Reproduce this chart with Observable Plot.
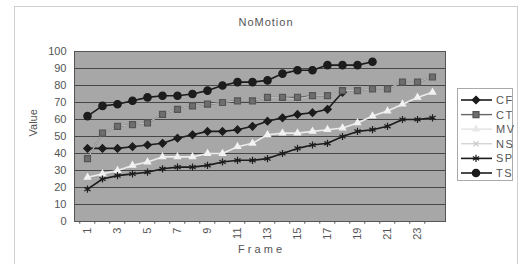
<!DOCTYPE html>
<html><head><meta charset="utf-8">
<script src="https://cdn.jsdelivr.net/npm/d3@7"></script>
<script src="https://cdn.jsdelivr.net/npm/@observablehq/plot@0.6"></script>
<style>
html,body{margin:0;padding:0;background:#fff;}
#wrap{position:relative;width:528px;height:264px;overflow:hidden;font-family:"Liberation Sans",Arial,sans-serif;}
#box{position:absolute;left:14px;top:6px;width:504px;height:270px;border:1px solid #cfcfcf;box-sizing:border-box;}
#title{position:absolute;left:0;width:532px;top:16px;text-align:center;font-size:11px;letter-spacing:1px;color:#555;}
#legend{position:absolute;left:0;top:0;}
#chart{position:absolute;left:0;top:0;}
</style></head><body>
<div id="wrap"><div id="box"></div><div id="title">NoMotion</div><div id="chart"></div><svg id="legend" width="528" height="264"></svg></div>
<script>
const frames = [1,2,3,4,5,6,7,8,9,10,11,12,13,14,15,16,17,18,19,20,21,22,23,24];
const frameLabels = [1,3,5,7,9,11,13,15,17,19,21,23];
const yTicks = [0,10,20,30,40,50,60,70,80,90,100];
const seriesNames = ["CF","CT","MV","NS","SP","TS"];
const CF = [43,43,43,44,45,46,49,51,53,53,54,56,59,61,63,64,66,76];
const CT = [37,52,56,57,58,63,66,68,69,70,71,71,73,73,73,74,74,77,77,78,78,82,82,85];
const MV = [26,28,30,33,35,38,38,38,40,40,44,46,51,52,52,53,54,55,58,62,65,69,73,76];
const NS = [37,52,56,57,58,63,66,68,69,70,71,71,73,73,72,74,74,77,77,78,78,82,82,85];
const SP = [19,25,27,28,29,31,32,32,33,35,36,36,37,40,43,45,46,50,53,54,56,60,60,61];
const TS = [62,68,69,71,73,74,74,75,77,80,82,82,83,87,89,89,92,92,92,94];

const values = {CF, CT, MV, NS, SP, TS};
const style = {
  CF: {stroke:"#1c1c1c", sw:1.6, symbol:"diamond2", r:3.4, fill:"#1c1c1c", mstroke:"#1c1c1c"},
  CT: {stroke:"#666", sw:1.4, symbol:"square2", r:3.8, fill:"#6e6e6e", mstroke:"#555"},
  MV: {stroke:"#ececec", sw:1.6, symbol:"triangle2", r:3, fill:"#f2f2f2", mstroke:"#f2f2f2"},
  NS: {stroke:"#c4c4c4", sw:1, symbol:"times", r:2.4, fill:"none", mstroke:"#c8c8c8"},
  SP: {stroke:"#1c1c1c", sw:1.6, symbol:"asterisk", r:3.4, fill:"none", mstroke:"#1c1c1c"},
  TS: {stroke:"#1c1c1c", sw:1.6, symbol:"circle", r:3.7, fill:"#1c1c1c", mstroke:"#1c1c1c"}
};
const rows = s => values[s].map((v,i)=>({frame: frames[i], value: v, series: s}));
const lineMark = s => Plot.line(rows(s), {x:"frame", y:"value", stroke:style[s].stroke, strokeWidth:style[s].sw});
const dotMark = s => { const st = style[s]; return Plot.dot(rows(s), {x:"frame", y:"value", symbol:()=>st.symbol, r:st.r, fill:st.fill, stroke:st.mstroke, strokeWidth:1.2}); };

const marks = [
  Plot.frame({fill:"#a7a7a7", stroke:"none"}),
  Plot.gridY(yTicks.filter(d=>d>0 && d<100), {stroke:"#3c3c3c", strokeOpacity:0.9, strokeWidth:1}),
  Plot.frame({stroke:"#555", strokeWidth:1}),
  Plot.axisY(yTicks, {tickSize:0, tickPadding:8, fontSize:11, fill:"#555", label:null}),
  Plot.axisX(frameLabels, {tickSize:0, tickRotate:-90, tickPadding:6, fontSize:11, fill:"#555", label:null}),
  Plot.ruleX(frames, {x:d=>d, y1:0, y2:-1.6, stroke:"#555", dx:-7.73}),
  Plot.text(["Value"], {frameAnchor:"left", dx:-41, rotate:-90, fontSize:11, fill:"#555", text:d=>d}),
  Plot.text(["F r a m e"], {frameAnchor:"bottom", dy:31, fontSize:11, fill:"#555", text:d=>d}),
  lineMark("CF"), dotMark("CF"),
  lineMark("CT"),
  lineMark("MV"), dotMark("MV"),
  lineMark("NS"), dotMark("NS"),
  dotMark("CT"),
  lineMark("SP"), dotMark("SP"),
  lineMark("TS"), dotMark("TS")
];

const chart = Plot.plot({
  width:528, height:264,
  marginLeft:74, marginRight:83, marginTop:51, marginBottom:43,
  style:{fontFamily:"'Liberation Sans', Arial, sans-serif", background:"transparent"},
  x:{type:"point", domain:frames, padding:0.5, axis:null},
  y:{domain:[0,100], axis:null},
  symbol:{type:"identity"},
  marks
});
document.getElementById("chart").appendChild(chart);

// legend
const lg = d3.select("#legend");
lg.append("rect").attr("x",457.5).attr("y",88.5).attr("width",55).attr("height",92).attr("fill","#fff").attr("stroke","#aaa");
seriesNames.forEach((s,i)=>{
  const st = style[s];
  const y = 100 + i*14.6;
  lg.append("line").attr("x1",461).attr("x2",492).attr("y1",y).attr("y2",y).attr("stroke",st.stroke==="#ececec"?"#e6e6e6":st.stroke).attr("stroke-width",st.sw);
  const sym = {diamond2:d3.symbolDiamond2, square2:d3.symbolSquare2, triangle2:d3.symbolTriangle2, times:d3.symbolTimes, asterisk:d3.symbolAsterisk, circle:d3.symbolCircle}[st.symbol];
  lg.append("path").attr("d", d3.symbol(sym, st.r*st.r*Math.PI)()).attr("transform",`translate(476,${y})`)
    .attr("fill", st.fill==="#f2f2f2"?"#e8e8e8":st.fill).attr("stroke", st.mstroke==="#f2f2f2"?"#e8e8e8":st.mstroke).attr("stroke-width",1.2);
  lg.append("text").attr("x",496).attr("y",y+4).text(s).attr("font-size",11).attr("letter-spacing",1.5).attr("fill","#555")
    .attr("font-family","'Liberation Sans', Arial, sans-serif");
});
</script>
</body></html>
